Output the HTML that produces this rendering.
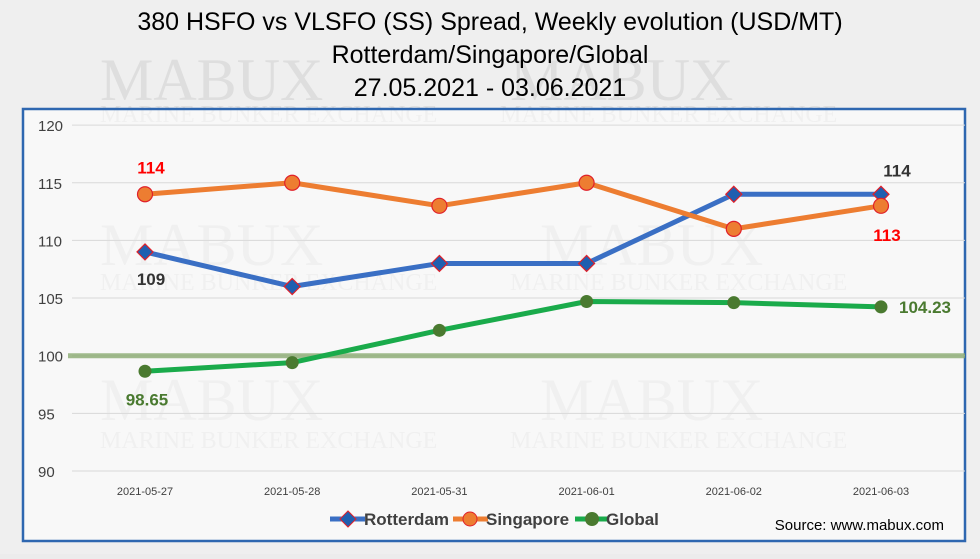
<!DOCTYPE html>
<html><head><meta charset="utf-8"><style>
body{margin:0;background:#ececec;width:980px;height:554px;overflow:hidden;font-family:"Liberation Sans",sans-serif}
</style></head><body>
<svg width="980" height="554" xmlns="http://www.w3.org/2000/svg">
<rect x="0" y="0" width="980" height="554" fill="#efefef"/>
<g fill="#dedede" font-family="Liberation Serif,serif">
<text x="100" y="100" font-size="60">MABUX</text><text x="510" y="100" font-size="60">MABUX</text>
<text x="100" y="122" font-size="24">MARINE BUNKER EXCHANGE</text><text x="500" y="122" font-size="24">MARINE BUNKER EXCHANGE</text>
<text x="100" y="265" font-size="60">MABUX</text><text x="540" y="265" font-size="60">MABUX</text>
<text x="100" y="290" font-size="24">MARINE BUNKER EXCHANGE</text><text x="510" y="290" font-size="24">MARINE BUNKER EXCHANGE</text>
<text x="100" y="420" font-size="60">MABUX</text><text x="540" y="420" font-size="60">MABUX</text>
<text x="100" y="448" font-size="24">MARINE BUNKER EXCHANGE</text><text x="510" y="448" font-size="24">MARINE BUNKER EXCHANGE</text>
</g>
<g text-anchor="middle" font-size="25" fill="#000">
<text x="490" y="30">380 HSFO vs VLSFO (SS) Spread, Weekly evolution (USD/MT)</text>
<text x="490" y="63">Rotterdam/Singapore/Global</text>
<text x="490" y="96">27.05.2021 - 03.06.2021</text>
</g>
<rect x="23" y="109" width="942" height="432" fill="#ffffff" fill-opacity="0.55" stroke="#2e67b0" stroke-width="2.5"/>
<g id="grid"></g><g id="series"></g>
<g font-size="14">
<g><line x1="330" y1="519" x2="365" y2="519" stroke="#3a6fc4" stroke-width="5"/><path d="M348 511 L356 519 L348 527 L340 519Z" fill="#1f5fb0" stroke="#e0202a"/><text x="364" y="525" font-size="17" font-weight="bold" fill="#404040">Rotterdam</text></g>
<g><line x1="453" y1="519" x2="488" y2="519" stroke="#ed7d31" stroke-width="5"/><circle cx="470" cy="519" r="7" fill="#ed7d31" stroke="#e0202a"/><text x="486" y="525" font-size="17" font-weight="bold" fill="#404040">Singapore</text></g>
<g><line x1="575" y1="519" x2="608" y2="519" stroke="#1aab4b" stroke-width="5"/><circle cx="592" cy="519" r="7" fill="#4a7a30"/><text x="606" y="525" font-size="17" font-weight="bold" fill="#404040">Global</text></g>
</g>
<text x="944" y="530" text-anchor="end" font-size="15" fill="#000">Source: www.mabux.com</text>
</svg>
<script>
const categories=["2021-05-27","2021-05-28","2021-05-31","2021-06-01","2021-06-02","2021-06-03"];
const rotterdam=[109,106,108,108,114,114];
const singapore=[114,115,113,115,111,113];
const global=[98.65,99.4,102.2,104.7,104.6,104.23];
const yTicks=[90,95,100,105,110,115,120];
const NS="http://www.w3.org/2000/svg";
const x=i=>145+i*147.2;
const y=v=>471-(v-90)*11.53;
function mk(t,a,p){const e=document.createElementNS(NS,t);for(const k in a)e.setAttribute(k,a[k]);p.appendChild(e);return e;}
const grid=document.getElementById('grid'),ser=document.getElementById('series');
yTicks.forEach(v=>{
 const l=mk('line',{x1:72,x2:965,y1:y(v),y2:y(v),stroke:'#d9d9d9','stroke-width':1},grid);
 
 
 const t=mk('text',{x:38,y:y(v)+6,'font-size':15,fill:'#404040'},grid);t.textContent=v;
 
 
});
const band=mk('line',{x1:68,x2:965,y1:y(100),y2:y(100),stroke:'#8aaa70','stroke-width':5,'stroke-opacity':0.8},grid);


categories.forEach((c,i)=>{const t=mk('text',{x:x(i),y:495,'font-size':11,'text-anchor':'middle',fill:'#404040'},grid);t.textContent=c;
 
 });
function line(arr,col,name){const p=mk('polyline',{points:arr.map((v,i)=>x(i)+','+y(v)).join(' '),fill:'none',stroke:col,'stroke-width':5,'stroke-linejoin':'round'},ser);
 
 }
line(global,'#1aab4b','global');line(rotterdam,'#3a6fc4','rotterdam');line(singapore,'#ed7d31','singapore');
global.forEach((v,i)=>{const c=mk('circle',{cx:x(i),cy:y(v),r:6.5,fill:'#4a7a30'},ser);
 
 });
rotterdam.forEach((v,i)=>{const X=x(i),Y=y(v);const p=mk('path',{d:`M${X} ${Y-8}L${X+8} ${Y}L${X} ${Y+8}L${X-8} ${Y}Z`,fill:'#1f5fb0',stroke:'#e0202a','stroke-width':1.2},ser);
 
 });
singapore.forEach((v,i)=>{const c=mk('circle',{cx:x(i),cy:y(v),r:7.5,fill:'#ed7d31',stroke:'#e0202a','stroke-width':1.2},ser);
 
 });
function lab(txt,X,Y,col,name){const t=mk('text',{x:X,y:Y,'font-size':17,'font-weight':'bold',fill:col,'text-anchor':'middle'},ser);t.textContent=txt;
 
 }
lab(singapore[0],x(0)+6,y(singapore[0])-21,'#ff0000','label-singapore-first');
lab(rotterdam[0],x(0)+6,y(rotterdam[0])+33,'#333','label-rotterdam-first');
lab(global[0],x(0)+2,y(global[0])+34,'#4a7a30','label-global-first');
lab(rotterdam[5],x(5)+16,y(rotterdam[5])-18,'#333','label-rotterdam-last');
lab(singapore[5],x(5)+6,y(singapore[5])+35,'#ff0000','label-singapore-last');
lab(global[5],x(5)+44,y(global[5])+6,'#4a7a30','label-global-last');
</script>
</body></html>
